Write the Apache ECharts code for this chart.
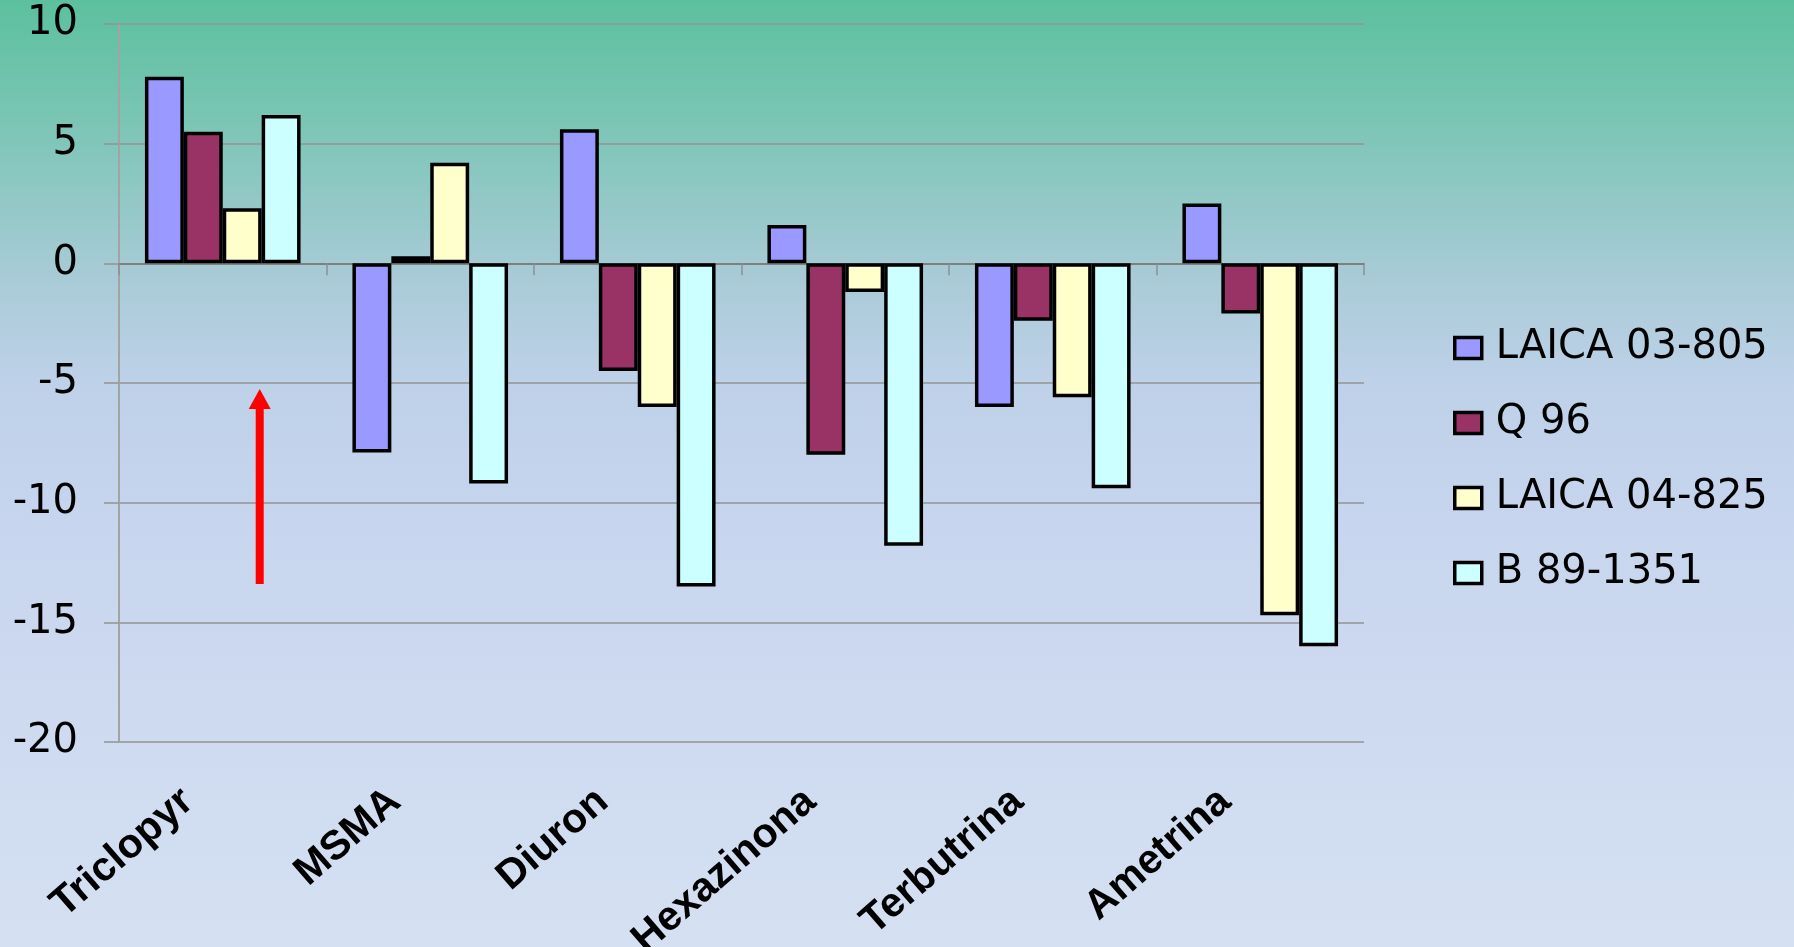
<!DOCTYPE html>
<html>
<head>
<meta charset="utf-8">
<title>Herbicidas</title>
<script src="https://cdn.jsdelivr.net/npm/echarts@6/dist/echarts.min.js"></script>
<style>
  html, body { margin: 0; padding: 0; }
  #chart { width: 1794px; height: 947px; }
</style>
</head>
<body>
<div id="chart"></div>
<script>
// Herbicides (categories) and the response of each sugarcane variety
const categories = ['Triclopyr', 'MSMA', 'Diuron', 'Hexazinona', 'Terbutrina', 'Ametrina'];
const seriesNames = ['LAICA 03-805', 'Q 96', 'LAICA 04-825', 'B 89-1351'];
const laica03805 = [7.8, -7.9, 5.6, 1.6, -6.0, 2.5];
const q96 = [5.5, 0.3, -4.5, -8.0, -2.4, -2.1];
const laica04825 = [2.3, 4.2, -6.0, -1.2, -5.6, -14.7];
const b891351 = [6.2, -9.2, -13.5, -11.8, -9.4, -16.0];
const seriesColors = ['#9999FF', '#993366', '#FFFFCC', '#CCFFFF'];

// value axis
const yMin = -20, yMax = 10, yStep = 5;

// red arrow annotation under Triclopyr (from/to in axis units)
const arrowFrom = -13.4;
const arrowTo = -5.25;

const chart = echarts.init(document.getElementById('chart'), null, { renderer: 'canvas' });

const seriesData = [laica03805, q96, laica04825, b891351];
const grid0 = { left: 119, right: 430, top: 24, bottom: 205, outerBoundsMode: 'none' };

const option = {
  animation: false,
  backgroundColor: {
    type: 'linear', x: 0, y: 0, x2: 0, y2: 1,
    colorStops: [
      { offset: 0.00, color: '#5CC09E' },
      { offset: 0.11, color: '#76C4B1' },
      { offset: 0.21, color: '#92C8C6' },
      { offset: 0.30, color: '#AACBD8' },
      { offset: 0.40, color: '#BDD1E8' },
      { offset: 0.55, color: '#C7D5EE' },
      { offset: 1.00, color: '#D5E0F2' }
    ]
  },
  grid: [
    grid0,
    { left: 84, right: 465, top: 24, bottom: 205, outerBoundsMode: 'none' }
  ],
  legend: {
    orient: 'vertical',
    left: 1448,
    top: 323,
    itemWidth: 27,
    itemHeight: 21,
    itemGap: 35,
    icon: 'rect',
    itemStyle: { borderColor: '#000', borderWidth: 3.5 },
    textStyle: {
      fontFamily: 'DejaVu Sans',
      fontSize: 40,
      color: '#000',
      lineHeight: 40,
      padding: [0, 0, 0, 9]
    },
    data: seriesNames
  },
  xAxis: [
    {
      type: 'category',
      gridIndex: 0,
      data: categories,
      axisLine: { onZero: true, lineStyle: { color: '#7f7f7f', width: 2 } },
      axisTick: { show: true, length: 12, lineStyle: { color: '#8f8f8f', width: 1.5 } },
      axisLabel: { show: false },
      splitLine: { show: false }
    },
    {
      type: 'category',
      gridIndex: 1,
      position: 'bottom',
      data: categories,
      axisLine: { show: false },
      axisTick: { show: false },
      axisLabel: {
        interval: 0,
        rotate: 41,
        margin: 54,
        fontFamily: 'Liberation Sans',
        fontWeight: 'bold',
        fontSize: 41,
        color: '#000'
      }
    }
  ],
  yAxis: [
    {
      type: 'value',
      gridIndex: 0,
      min: yMin,
      max: yMax,
      interval: yStep,
      axisLine: { show: true, lineStyle: { color: '#a3a3a3', width: 2 } },
      axisTick: { show: true, length: 15, lineStyle: { color: '#939393', width: 1.5 } },
      axisLabel: {
        margin: 41,
        fontFamily: 'DejaVu Sans',
        fontSize: 40,
        color: '#000'
      },
      splitLine: { show: true, lineStyle: { color: '#939393', width: 1.5 } }
    },
    {
      type: 'value',
      gridIndex: 1,
      min: yMin,
      max: yMax,
      interval: yStep,
      show: false
    }
  ],
  series: seriesNames.map((name, i) => ({
    name: name,
    type: 'bar',
    xAxisIndex: 0,
    yAxisIndex: 0,
    data: seriesData[i],
    barGap: '0%',
    barCategoryGap: '25%',
    itemStyle: { color: seriesColors[i], borderColor: '#000', borderWidth: 3.5 }
  }))
};

chart.setOption(option);

// Red arrow pointing up, placed on the boundary between the 3rd and 4th bar of the first group
function drawArrow() {
  const cx = chart.convertToPixel({ xAxisIndex: 0 }, categories[0]);
  const band = (1794 - grid0.left - grid0.right) / categories.length;
  const barW = band * 0.75 / seriesNames.length;
  const x = cx + barW * 0.95;
  const yBottom = chart.convertToPixel({ yAxisIndex: 0 }, arrowFrom);
  const yTip = chart.convertToPixel({ yAxisIndex: 0 }, arrowTo);
  const headLen = 20, headHalf = 11;
  chart.setOption({
    graphic: [
      {
        type: 'group',
        children: [
          {
            type: 'line',
            shape: { x1: x, y1: yBottom, x2: x, y2: yTip + headLen - 1 },
            style: { stroke: '#FF0000', lineWidth: 8 }
          },
          {
            type: 'polygon',
            shape: { points: [[x, yTip], [x - headHalf, yTip + headLen], [x + headHalf, yTip + headLen]] },
            style: { fill: '#FF0000' }
          }
        ]
      }
    ]
  });
}
drawArrow();
</script>
</body>
</html>
